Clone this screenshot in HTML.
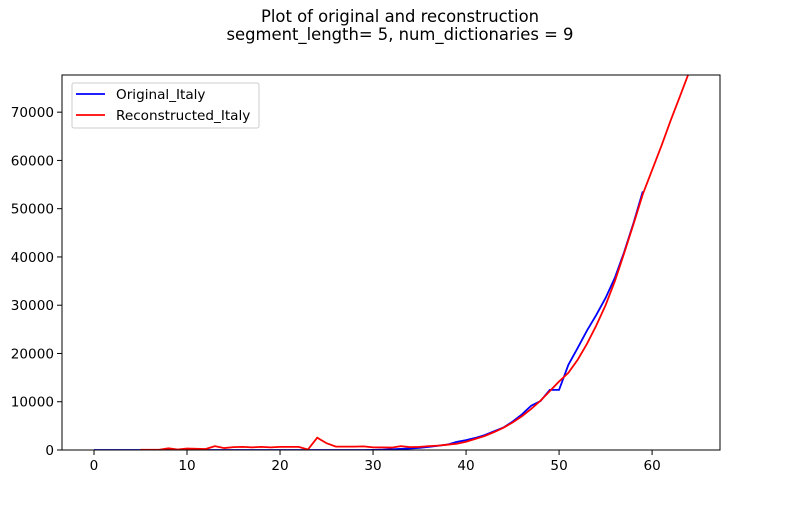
<!DOCTYPE html>
<html><head><meta charset="utf-8"><style>
body{margin:0;background:#fff;}
svg text{font-family:"DejaVu Sans","Liberation Sans",sans-serif;fill:#000;}
</style></head><body>
<svg id="chart" width="800" height="500" xmlns="http://www.w3.org/2000/svg">
<text x="400" y="22" text-anchor="middle" font-size="16.4">Plot of original and reconstruction</text>
<text x="400" y="40" text-anchor="middle" font-size="16.4">segment_length= 5, num_dictionaries = 9</text>
<defs><clipPath id="clip"><rect x="62" y="75" width="658" height="375"/></clipPath></defs>
<g id="xt"></g>
<g id="yt"></g>
<g clip-path="url(#clip)">
<path id="orig" fill="none" stroke="#0000ff" stroke-width="1.8"/>
<path id="recon" fill="none" stroke="#ff0000" stroke-width="1.8"/>
</g>
<rect x="62" y="75" width="658" height="375" fill="none" stroke="#000" stroke-width="1"/>
<g>
<rect x="72" y="83" width="187" height="45" rx="2" fill="#fff" fill-opacity="0.8" stroke="#ccc"/>
<line x1="76" y1="94" x2="105" y2="94" stroke="#0000ff" stroke-width="1.8"/>
<text x="116" y="99" font-size="13.6">Original_Italy</text>
<line x1="76" y1="115" x2="105" y2="115" stroke="#ff0000" stroke-width="1.8"/>
<text x="116" y="120" font-size="13.6">Reconstructed_Italy</text>
</g>
</svg>
<script>
const originalValues=[0,0,0,0,0,0,0,0,0,2,2,2,2,2,2,2,3,3,3,3,3,3,3,3,3,3,3,3,3,3,20,62,155,229,322,453,655,888,1128,1694,2036,2502,3089,3858,4636,5883,7375,9172,10149,12462,12462,17660,21157,24747,27980,31506,35713,41035,47021,53578];
const reconStart=5;
const reconValues=[50,50,50,350,100,300,250,200,800,400,600,650,550,650,550,650,650,650,100,2550,1400,700,700,700,750,550,550,500,800,600,650,800,900,1100,1300,1700,2300,2900,3700,4600,5700,7000,8500,10200,12200,14200,16000,18700,22000,25800,30000,35000,40800,46800,53000,58000,63000,68300,73300,78400];
const xTicks=[0,10,20,30,40,50,60];
const yTicks=[0,10000,20000,30000,40000,50000,60000,70000];
const X0=62,X1=720,Y0=450,Y1=75,xmin=-3.44,xmax=67.3,ymin=0,ymax=77700;
const sx=v=>X0+(v-xmin)/(xmax-xmin)*(X1-X0);
const sy=v=>Y0-(v-ymin)/(ymax-ymin)*(Y0-Y1);
const NS="http://www.w3.org/2000/svg";
function mk(t,a,p){const e=document.createElementNS(NS,t);for(const k in a)e.setAttribute(k,a[k]);p.appendChild(e);return e;}
const xt=document.getElementById('xt'),yt=document.getElementById('yt');
xTicks.forEach(v=>{const x=sx(v);
const l=mk('line',{x1:x,x2:x,y1:450,y2:455,stroke:'#000'},xt);


const t=mk('text',{x:x,y:470,'text-anchor':'middle','font-size':'13.6'},xt);t.textContent=v;

});
yTicks.forEach(v=>{const y=sy(v);
const l=mk('line',{x1:57,x2:62,y1:y,y2:y,stroke:'#000'},yt);


const t=mk('text',{x:54,y:y+5,'text-anchor':'end','font-size':'13.6'},yt);t.textContent=v;

});
document.getElementById('orig').setAttribute('d',originalValues.map((v,i)=>(i?'L':'M')+sx(i)+','+sy(v)).join(''));
document.getElementById('recon').setAttribute('d',reconValues.map((v,i)=>(i?'L':'M')+sx(i+reconStart)+','+sy(v)).join(''));
</script>
</body></html>
